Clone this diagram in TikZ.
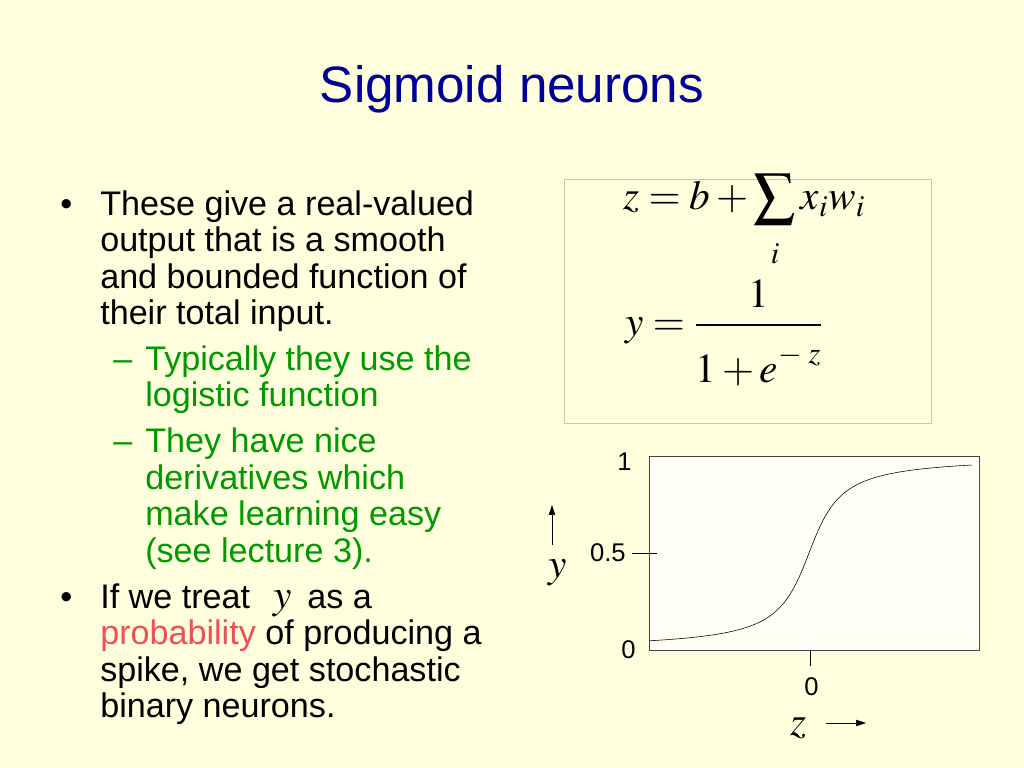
\documentclass[tikz,border=0pt]{standalone}
\usepackage{mathptmx}
\usepackage[no-math]{fontspec}
\usetikzlibrary{arrows.meta}
\newfontfamily\arial{Liberation Sans}
\definecolor{slidebg}{RGB}{255,255,221}
\definecolor{titleblue}{RGB}{0,0,153}
\definecolor{subgreen}{RGB}{0,153,0}
\definecolor{probred}{RGB}{240,80,85}
\definecolor{plotbg}{RGB}{255,255,248}
\definecolor{eqframe}{RGB}{200,200,170}
\definecolor{plotframe}{RGB}{70,70,70}
\begin{document}
\begin{tikzpicture}[x=0.703125pt, y=-0.703125pt,
  body/.style={font=\arial\fontsize{24}{25.5}\selectfont, anchor=base west, inner sep=0pt},
  subitem/.style={body, text=subgreen},
  eq/.style={font=\fontsize{29}{34}\selectfont, anchor=base west, inner sep=0pt},
  ticklabel/.style={font=\arial\fontsize{18}{20}\selectfont, inner sep=0pt},
]
% Parameters
\def\plotL{649};
\def\plotR{979};
\def\plotT{456};
\def\plotB{650};
\def\zeroX{809};
\def\spread{24};

% Slide
\fill[slidebg] (0,0) rectangle (1024,768);
\node[font=\arial\fontsize{36}{40}\selectfont, text=titleblue, anchor=base, inner sep=0pt] (title) at (512,103) {Sigmoid neurons};

% Bullets
\node[body] (dotA) at (60,215.5) {•};
\foreach \yy/\txt [count=\k] in {215.5/These give a real-valued, 251.8/output that is a smooth, 288.1/and bounded function of, 324.5/their total input.}
{
\node[body] (give\k) at (100,\yy) {\txt};
}
\node[subitem] (dashA) at (113,370) {–};
\foreach \yy/\txt [count=\k] in {370/Typically they use the, 406.5/logistic function}
{
\node[subitem] (logistic\k) at (145,\yy) {\txt};
}
\node[subitem] (dashB) at (113,452.5) {–};
\foreach \yy/\txt [count=\k] in {452.5/They have nice, 489/derivatives which, 525.5/make learning easy, 562/(see lecture 3).}
{
\node[subitem] (deriv\k) at (145,\yy) {\txt};
}
\node[body] (dotB) at (60,608) {•};
\node[body] (treat) at (100,608) {If we treat};
\node[eq] (treatY) at (273,608) {$y$};
\node[body] (asa) at (307,608) {as a};
\foreach \yy/\txt [count=\k] in {644.5/{{\color{probred}probability} of producing a}, 681/{spike, we get stochastic}, 717.5/binary neurons.}
{
\node[body] (spike\k) at (100,\yy) {\txt};
}

% Equations
\draw[eqframe, fill=slidebg] (564,179) rectangle (931,423);
\node[eq] (eqsum) at (623,210) {$\displaystyle z = b + \sum_{\rule{0pt}{22pt}i} x_i w_i$};
\node[eq] (eqsig) at (625,335.6) {$\displaystyle y = \frac{1}{\rule{0pt}{36pt}1+e^{\raisebox{5pt}{$\scriptstyle -\;z$}}}$};

% Plot
\draw[plotframe, fill=plotbg] (\plotL,\plotT) rectangle (\plotR,\plotB);
\draw (631.7,553) -- (656.7,553); % tick 0.5
\draw (810.7,\plotB) -- (810.7,666); % tick 0
\draw[domain=650:972, samples=120, smooth] plot (\x, {\plotB-194*(0.5+atan((\x-\zeroX)/\spread)/180)});
\node[ticklabel, anchor=base east] (one) at (632,470) {1};
\node[ticklabel, anchor=base east] (half) at (626,561.7) {0.5};
\node[ticklabel, anchor=base east] (nil) at (636,658) {0};
\node[ticklabel, anchor=base] (zeroz) at (811.5,695) {0};

% Axis names
\node[eq, anchor=base] (ylab) at (558,577) {$y$};
\node[eq, anchor=base] (zlab) at (799,735) {$z$};
\coordinate (yfrom) at (552,545);
\coordinate (yto) at (552,505);
\coordinate (zfrom) at (826,723);
\coordinate (zto) at (866,723);
\draw[-{Triangle[length=7pt,width=4.5pt]}] (yfrom) -- (yto);
\draw[-{Triangle[length=7pt,width=4.5pt]}] (zfrom) -- (zto);

\end{tikzpicture}
\end{document}
